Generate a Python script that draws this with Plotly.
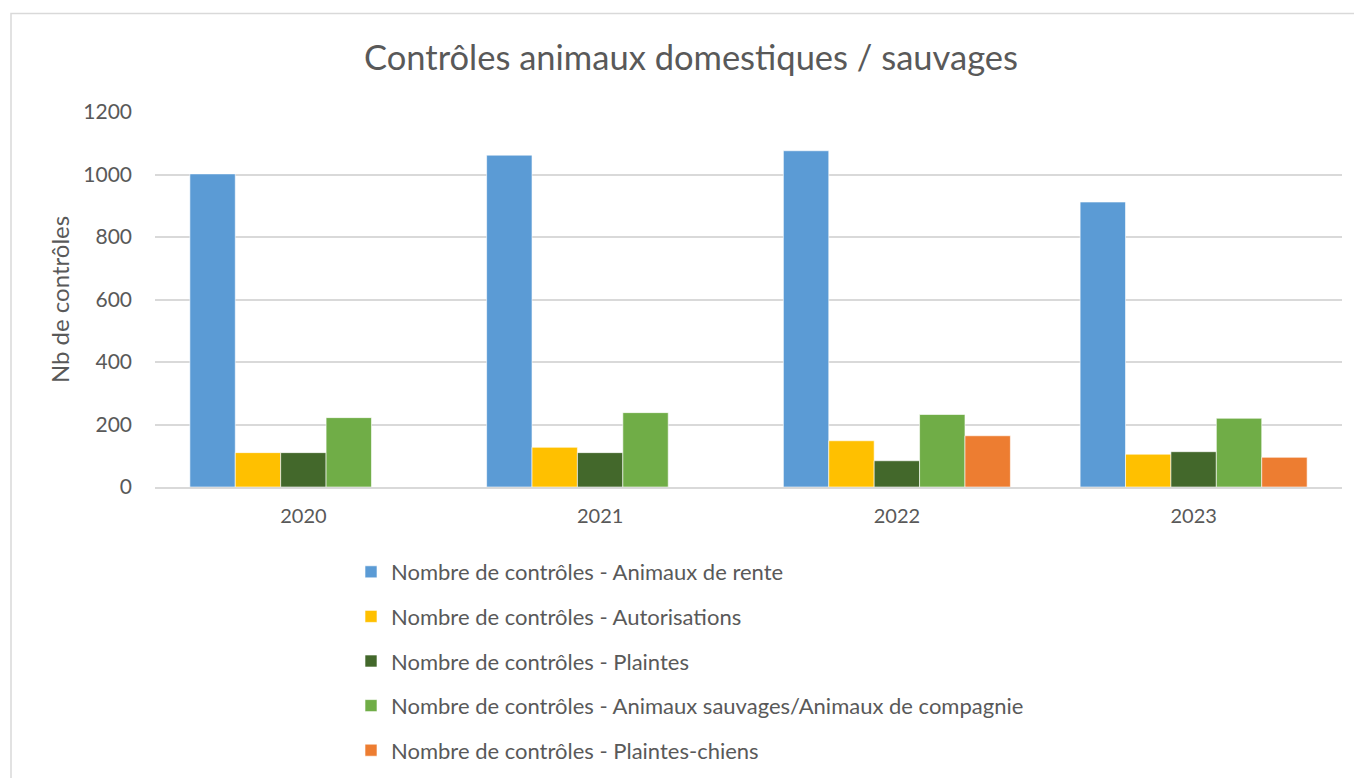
import plotly.graph_objects as go

years = ["2020", "2021", "2022", "2023"]
series_names = [
    "Nombre de contrôles - Animaux de rente",
    "Nombre de contrôles - Autorisations",
    "Nombre de contrôles - Plaintes",
    "Nombre de contrôles - Animaux sauvages/Animaux de compagnie",
    "Nombre de contrôles - Plaintes-chiens",
]
rente = [1002, 1062, 1076, 912]
autorisations = [110, 127, 148, 105]
plaintes = [110, 110, 84, 113]
sauvages_compagnie = [222, 238, 232, 220]
plaintes_chiens = [None, None, 164, 95]

colors = ["#5B9BD5", "#FFC000", "#43682B", "#70AD47", "#ED7D31"]
values = [rente, autorisations, plaintes, sauvages_compagnie, plaintes_chiens]

FONT = "Lato"
TXT = "#595959"

fig = go.Figure()
for i, (name, vals, col) in enumerate(zip(series_names, values, colors)):
    fig.add_trace(go.Bar(
        x=years, y=vals, name=name, legendgroup=str(i),
        marker=dict(color=col, line=dict(color="rgba(255,255,255,0.6)", width=1)),
    ))

# page is drawn with an 8px body offset; work in screen coords and subtract it
OFF = 8
W, H = 1362 - OFF, 778 - OFF
ml, mt = 155 - OFF, 112 - OFF
mr = W - (1342 - OFF)
mb = H - (487 - OFF)
pw = W - ml - mr
ph = H - mt - mb

def px_x(x):
    return (x - OFF - ml) / pw

def px_y(y):
    return (H - mb - (y - OFF)) / ph

fig.update_layout(
    width=W, height=H,
    margin=dict(l=ml, r=mr, t=mt, b=mb, autoexpand=False),
    paper_bgcolor="white", plot_bgcolor="white",
    barmode="group", bargap=0.235, bargroupgap=0,
    font=dict(family=FONT, color=TXT, size=20),
    title=dict(text="Contrôles animaux domestiques / sauvages",
               x=(691 - OFF) / W, xref="container", xanchor="center",
               y=1 - (58 - OFF) / H, yref="container", yanchor="middle",
               font=dict(family=FONT, size=34.5, color=TXT)),
    xaxis=dict(showgrid=False, showline=True, linecolor="#D9D9D9", linewidth=1.5,
               ticks="", ticklabelstandoff=10, tickfont=dict(size=20, color=TXT)),
    yaxis=dict(range=[0, 1200], dtick=200, showgrid=True, gridcolor="#D9D9D9",
               gridwidth=1.5, zeroline=False, showline=False, ticks="",
               ticklabelstandoff=22, tickfont=dict(size=21, color=TXT),
               title=dict(text="Nb de contrôles", standoff=6,
                          font=dict(size=24, color=TXT))),
    legend=dict(orientation="v", x=px_x(351), xanchor="left",
                y=px_y(551), yanchor="top", tracegroupgap=13,
                font=dict(size=22, color=TXT), bgcolor="rgba(0,0,0,0)"),
    shapes=[dict(type="rect", xref="paper", yref="paper",
                 x0=px_x(11), x1=px_x(1380), y0=px_y(800), y1=px_y(13.5),
                 line=dict(color="#D9D9D9", width=1.5), fillcolor="rgba(0,0,0,0)",
                 layer="below")],
)

fig.write_html("out.html")
